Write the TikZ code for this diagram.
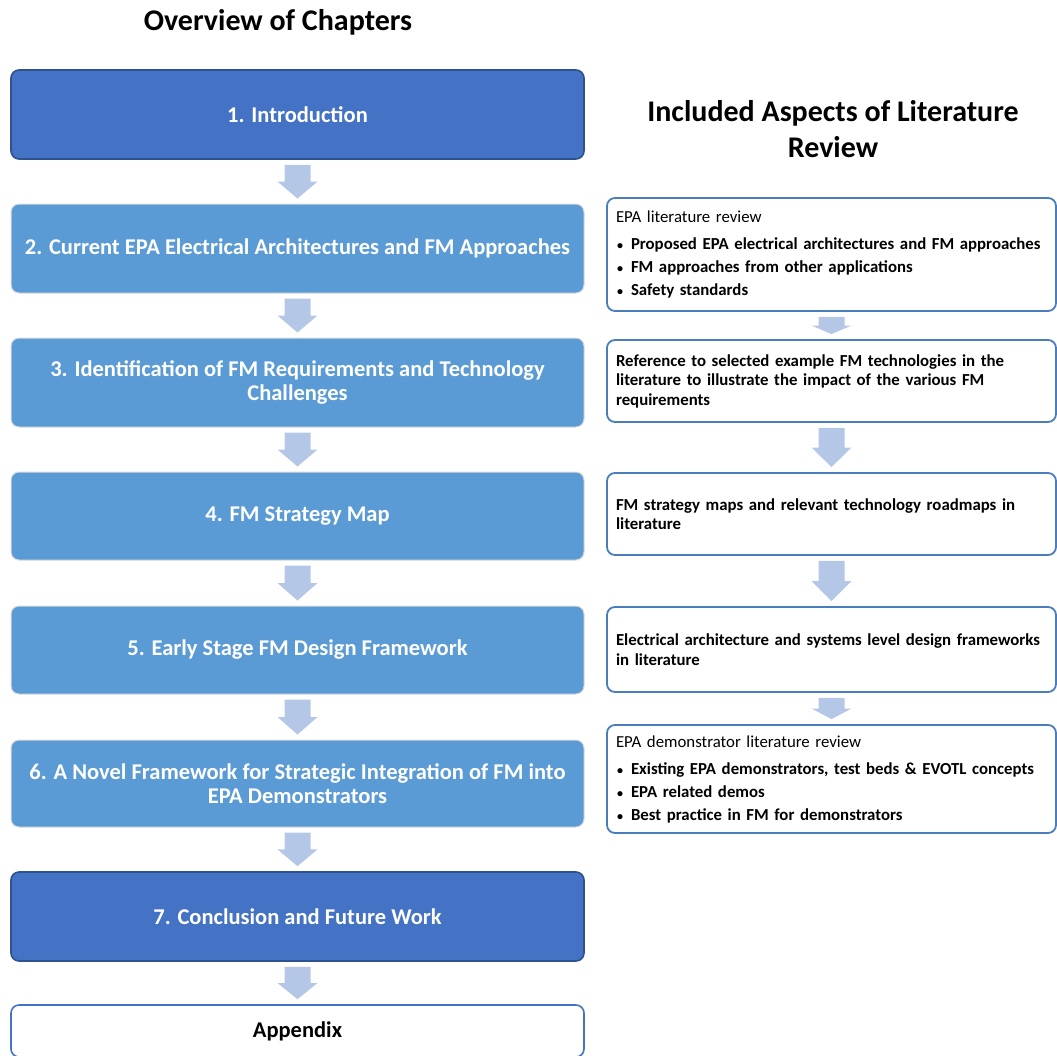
\documentclass[tikz,border=0pt]{standalone}
\usepackage{fontspec}
\setmainfont{Carlito}
\usetikzlibrary{calc}

\definecolor{chapdark}{HTML}{4472C4}
\definecolor{chapdarkedge}{HTML}{2F528F}
\definecolor{chaplight}{HTML}{5B9BD5}
\definecolor{chaplightedge}{HTML}{DADADA}
\definecolor{flowarrow}{HTML}{B4C7E7}
\definecolor{reviewedge}{HTML}{4A7EBB}

% block arrow between two stacked nodes: 5pt gap at each end, head = half the span
\newcommand\blockarrow[2]{%
  \fill[flowarrow] let \p1=(#1.south), \p2=(#2.north), \n1={\y1-\y2-10pt} in
    (\x1-13pt,\y1-5pt) -- (\x1+13pt,\y1-5pt) -- (\x1+13pt,\y1-5pt-0.5*\n1)
    -- (\x1+20pt,\y1-5pt-0.5*\n1) -- (\x1,\y2+5pt) -- (\x1-20pt,\y1-5pt-0.5*\n1)
    -- (\x1-13pt,\y1-5pt-0.5*\n1) -- cycle;}

% small list bullet
\newcommand\itemdot{\makebox[15pt][l]{\hspace{1pt}{\fontsize{12}{12}\selectfont\textbullet}}}

\begin{document}
\begin{tikzpicture}[x=1pt,y=1pt,
  chapter/.style={rounded corners=8pt, minimum width=573pt, inner sep=0pt,
    align=center, text=white, font=\fontsize{22.5}{24}\selectfont\bfseries},
  chapdarkbox/.style={chapter, fill=chapdark, draw=chapdarkedge, line width=1.6pt},
  chaplightbox/.style={chapter, fill=chaplight, draw=chaplightedge, line width=1pt},
  review/.style={rounded corners=8pt, minimum width=449pt, inner sep=0pt,
    fill=white, draw=reviewedge, line width=1.8pt, text=black,
    text width=431pt, align=left, font=\fontsize{16.8}{19.5}\selectfont\bfseries},
  heading/.style={font=\fontsize{30}{36}\selectfont\bfseries, align=center, inner sep=0pt}]

\useasboundingbox (0,0) rectangle (1057,-1055);

% headings
\node[heading] (overview) at (278,-22) {Overview of Chapters};
\node[heading] (aspects) at (833,-129) {Included Aspects of Literature\\Review};

% chapters
\node[chapdarkbox, minimum height=89pt] (c1) at (297.5,-114.5) {1. Introduction};
\node[chaplightbox, minimum height=89pt] (c2) at (297.5,-248.5) {2. Current EPA Electrical Architectures and FM Approaches};
\node[chaplightbox, minimum height=89pt] (c3) at (297.5,-382.5) {3. Identification of FM Requirements and Technology\\Challenges};
\node[chaplightbox, minimum height=88pt] (c4) at (297.5,-516) {4. FM Strategy Map};
\node[chaplightbox, minimum height=88pt] (c5) at (297.5,-650) {5. Early Stage FM Design Framework};
\node[chaplightbox, minimum height=87pt] (c6) at (297.5,-783.5) {6. A Novel Framework for Strategic Integration of FM into\\EPA Demonstrators};
\node[chapdarkbox, minimum height=89pt] (c7) at (297.5,-916.5) {7. Conclusion and Future Work};
\node[chapter, minimum height=52pt, fill=white, draw=chapdark, line width=1.6pt, text=black] (c8) at (297.5,-1031) {Appendix};

\foreach \a/\b in {c1/c2,c2/c3,c3/c4,c4/c5,c5/c6,c6/c7,c7/c8}{\blockarrow{\a}{\b}}

% literature review aspects
\node[review, minimum height=113pt] (r1) at (831.5,-254.5)
  {{\mdseries EPA literature review}\\[7.5pt]
   \itemdot Proposed EPA electrical architectures and FM approaches\\[3.5pt]
   \itemdot FM approaches from other applications\\[3.5pt]
   \itemdot Safety standards};
\node[review, minimum height=82pt] (r2) at (831.5,-381)
  {Reference to selected example FM technologies in the\\
   literature to illustrate the impact of the various FM\\
   requirements};
\node[review, minimum height=82pt] (r3) at (831.5,-514)
  {FM strategy maps and relevant technology roadmaps in\\literature};
\node[review, minimum height=85pt] (r4) at (831.5,-649.5)
  {Electrical architecture and systems level design frameworks\\in literature};
\node[review, minimum height=108pt] (r5) at (831.5,-779)
  {{\mdseries EPA demonstrator literature review}\\[7.5pt]
   \itemdot Existing EPA demonstrators, test beds \& EVOTL concepts\\[3.5pt]
   \itemdot EPA related demos\\[3.5pt]
   \itemdot Best practice in FM for demonstrators};

\foreach \a/\b in {r1/r2,r2/r3,r3/r4,r4/r5}{\blockarrow{\a}{\b}}
\end{tikzpicture}
\end{document}
